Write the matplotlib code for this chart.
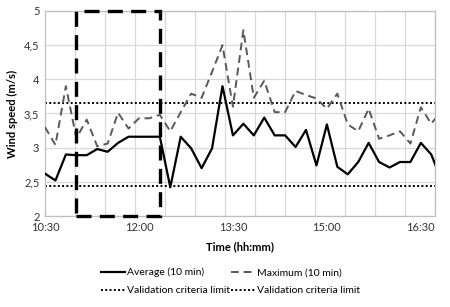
import numpy as np
import matplotlib
matplotlib.use('Agg')
import matplotlib.pyplot as plt
from matplotlib.patches import Rectangle
from matplotlib.lines import Line2D

plt.rcParams['font.family'] = ['Lato', 'DejaVu Sans']

# データ（10分ごと, 10:30 から）
minutes = np.arange(39) * 10
average = [2.62, 2.52, 2.90, 2.89, 2.89, 2.98, 2.94, 3.07, 3.16, 3.16,
           3.16, 3.16, 2.42, 3.16, 2.99, 2.70, 2.99, 3.90, 3.18, 3.35,
           3.18, 3.44, 3.18, 3.18, 3.01, 3.26, 2.74, 3.34, 2.72, 2.61,
           2.79, 3.07, 2.79, 2.71, 2.79, 2.79, 3.07, 2.90, 2.51]
maximum = [3.30, 3.04, 3.90, 3.14, 3.41, 3.02, 3.06, 3.51, 3.28, 3.43,
           3.43, 3.48, 3.24, 3.52, 3.79, 3.73, 4.11, 4.50, 3.60, 4.72,
           3.73, 3.98, 3.52, 3.52, 3.83, 3.77, 3.72, 3.57, 3.79, 3.34,
           3.24, 3.57, 3.13, 3.18, 3.24, 3.06, 3.59, 3.35, 3.55]
limits = [3.66, 2.44]
tick_minutes = [0, 90, 180, 270, 360]
tick_labels = ['10:30', '12:00', '13:30', '15:00', '16:30']
y_ticks = [2, 2.5, 3, 3.5, 4, 4.5, 5]
box_span = (30, 110)  # 11:00 - 12:20

xmax = 390 / 10.44 * 10
fs = 8
fs_leg = 7.5

fig = plt.figure(figsize=(4.5, 3.07), dpi=100)
ax = fig.add_axes([0.1, 0.2964, 0.8667, 0.6678])

# グリッド
ax.set_xlim(0, xmax)
ax.set_ylim(2, 5)
ax.set_yticks(y_ticks)
ax.set_yticklabels([f'{v:g}'.replace('.', ',') for v in y_ticks])
ax.set_xticks(tick_minutes)
ax.set_xticklabels(tick_labels)
ax.set_xticks(np.linspace(0, xmax, 14), minor=True)
ax.grid(True, which='minor', axis='x', color='#d9d9d9', lw=0.9)
ax.grid(True, which='major', axis='y', color='#d9d9d9', lw=0.9)
ax.tick_params(which='both', length=0, labelsize=fs, colors='#333333', pad=4)
for s in ax.spines.values():
    s.set_color('#bfbfbf')
    s.set_linewidth(0.9)

# 線
ax.plot(minutes, average, color='black', lw=1.6, zorder=3)
ax.plot(minutes, maximum, color='#595959', lw=1.4, dashes=(4, 2.5), zorder=3)
for v in limits:
    ax.axhline(v, color='black', lw=1.4, ls=(0, (1, 1.2)), zorder=2)

# 破線の枠
ax.add_patch(Rectangle((box_span[0], 2), box_span[1] - box_span[0], 3,
                       fill=False, ec='black', lw=2.4, ls=(0, (4.5, 2.5)),
                       clip_on=False, zorder=4))

ax.set_xlabel('Time (hh:mm)', fontsize=fs, fontweight='bold', labelpad=6)
ax.set_ylabel('Wind speed (m/s)', fontsize=fs, fontweight='bold', labelpad=4)

# 凡例（行ごとに並べる）
avg_h = Line2D([], [], color='black', lw=1.6)
max_h = Line2D([], [], color='#595959', lw=1.4, dashes=(4, 2.5))
lim_h = Line2D([], [], color='black', lw=1.4, ls=(0, (1, 1.2)))
handles = [avg_h, lim_h, max_h, lim_h]
labels = ['Average (10 min)', 'Validation criteria limit',
          'Maximum (10 min)', 'Validation criteria limit']
fig.legend(handles, labels, loc='center', bbox_to_anchor=(0.512, 0.083),
           ncol=2, frameon=False, fontsize=fs_leg, handlelength=2.3,
           handletextpad=0.2, columnspacing=0.1, labelspacing=0.85)

fig.savefig('out.png', dpi=100)
